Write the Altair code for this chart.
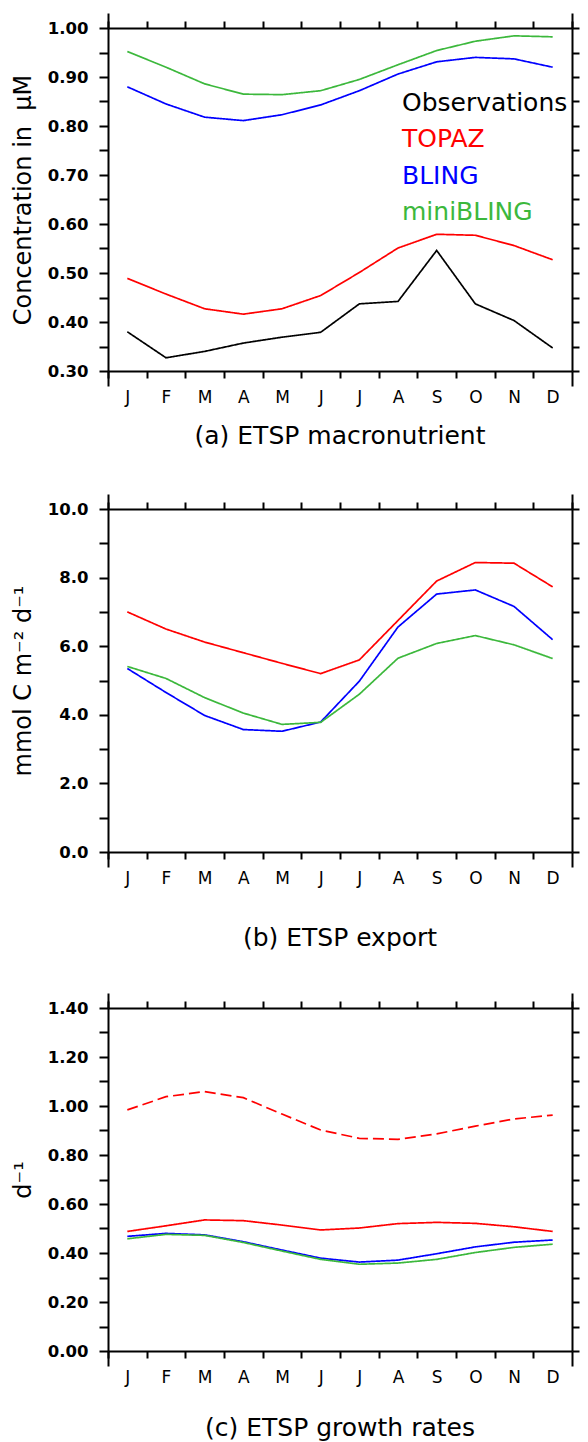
import json
import altair as alt
import pandas as pd

# ---------------- data ----------------
months = ["J", "F", "M", "A", "M", "J", "J", "A", "S", "O", "N", "D"]
month_starts = [0, 1, 2, 3, 4, 5, 6, 7, 8, 9, 10, 11]
month_edges = [0, 1, 2, 3, 4, 5, 6, 7, 8, 9, 10, 11, 12]
series_names = ["Observations", "TOPAZ", "BLING", "miniBLING"]
series_colors = ["#000000", "#ff0000", "#0000ff", "#3cb83c"]

# (a) ETSP macronutrient (uM)
a_obs = [0.380, 0.327, 0.340, 0.357, 0.369, 0.379, 0.437, 0.442, 0.546, 0.437, 0.403, 0.347]
a_topaz = [0.489, 0.457, 0.427, 0.416, 0.427, 0.454, 0.501, 0.551, 0.579, 0.577, 0.556, 0.527]
a_bling = [0.880, 0.845, 0.818, 0.811, 0.823, 0.843, 0.872, 0.906, 0.931, 0.940, 0.937, 0.920]
a_mini = [0.952, 0.920, 0.886, 0.865, 0.864, 0.872, 0.895, 0.925, 0.954, 0.973, 0.984, 0.982]
a_ticks = [0.30, 0.35, 0.40, 0.45, 0.50, 0.55, 0.60, 0.65, 0.70, 0.75, 0.80, 0.85, 0.90, 0.95, 1.00]

# (b) ETSP export (mmol C m-2 d-1)
b_topaz = [7.00, 6.50, 6.12, 5.81, 5.50, 5.20, 5.60, 6.75, 7.90, 8.44, 8.42, 7.73]
b_bling = [5.35, 4.65, 3.98, 3.57, 3.52, 3.79, 4.98, 6.56, 7.52, 7.64, 7.16, 6.19]
b_mini = [5.41, 5.06, 4.50, 4.05, 3.72, 3.78, 4.60, 5.65, 6.08, 6.31, 6.04, 5.64]
b_ticks = [0, 1, 2, 3, 4, 5, 6, 7, 8, 9, 10]

# (c) ETSP growth rates (d-1)
c_topaz_dash = [0.984, 1.038, 1.059, 1.034, 0.967, 0.902, 0.868, 0.864, 0.886, 0.918, 0.947, 0.963]
c_topaz = [0.488, 0.511, 0.535, 0.532, 0.514, 0.494, 0.502, 0.520, 0.525, 0.521, 0.507, 0.488]
c_bling = [0.468, 0.480, 0.474, 0.446, 0.412, 0.379, 0.363, 0.371, 0.397, 0.425, 0.444, 0.453]
c_mini = [0.458, 0.476, 0.472, 0.443, 0.408, 0.374, 0.354, 0.359, 0.374, 0.402, 0.423, 0.436]
c_ticks = [0.0, 0.1, 0.2, 0.3, 0.4, 0.5, 0.6, 0.7, 0.8, 0.9, 1.0, 1.1, 1.2, 1.3, 1.4]

FONT = "DejaVu Sans"
W, H = 464, 343


def long_frame(entries):
    rows = []
    for line_id, series, style, values in entries:
        for i, v in enumerate(values):
            rows.append({"line": line_id, "series": series, "style": style,
                         "pos": i + 0.5, "value": v})
    return pd.DataFrame(rows)


def color_expr():
    parts = []
    for n, c in zip(series_names, series_colors):
        parts.append(f"datum.value == '{n}' ? '{c}' : ")
    return "".join(parts) + "'black'"


month_expr = json.dumps(months) + "[datum.value]"


def panel(df, ydomain, yticks, label_expr, ytitle, title, title_offset, legend):
    xs = alt.Scale(domain=[0, 12], nice=False, zero=False)
    ys = alt.Scale(domain=ydomain, nice=False, zero=False)
    common = dict(domainColor="black", domainWidth=2, tickColor="black",
                  tickWidth=2, grid=False, title=None, minExtent=0)
    bottom = alt.Axis(orient="bottom", values=month_starts, tickSize=7,
                      labelExpr=month_expr, labelOffset=W / 24,
                      labelFlush=False, labelOverlap=False, labelBound=False,
                      labelFont=FONT, labelFontSize=17, labelColor="black",
                      labelPadding=11, **common)
    top = alt.Axis(orient="top", values=month_edges, tickSize=7, labels=False,
                   **common)
    corner_b = alt.Axis(orient="bottom", values=[0, 12], tickSize=15,
                        labels=False, domain=False, tickColor="black",
                        tickWidth=2, grid=False, title=None, minExtent=0)
    corner_t = alt.Axis(orient="top", values=[0, 12], tickSize=15,
                        labels=False, domain=False, tickColor="black",
                        tickWidth=2, grid=False, title=None, minExtent=0)
    left = alt.Axis(orient="left", values=yticks, tickSize=9,
                    labelExpr=label_expr, labelFont=FONT, labelFontSize=16.5,
                    labelFontWeight="bold", labelColor="black", labelPadding=11,
                    labelOverlap=False, labelFlush=False,
                    domainColor="black", domainWidth=2, tickColor="black",
                    tickWidth=2, grid=False,
                    title=ytitle, titleFont=FONT, titleFontSize=24,
                    titleFontWeight="normal", titleColor="black", titlePadding=12)
    right = alt.Axis(orient="right", values=yticks, tickSize=7, labels=False,
                     **common)

    lines = alt.Chart(df).mark_line(strokeWidth=1.7).encode(
        x=alt.X("pos:Q", scale=xs, axis=bottom),
        y=alt.Y("value:Q", scale=ys, axis=left),
        color=alt.Color("series:N",
                        scale=alt.Scale(domain=series_names, range=series_colors),
                        legend=legend),
        strokeDash=alt.StrokeDash("style:N",
                                  scale=alt.Scale(domain=["solid", "dashed"],
                                                  range=[[1, 0], [11, 5]]),
                                  legend=None),
        detail="line:N",
    )
    ghost_tr = alt.Chart(df).mark_line(opacity=0).encode(
        x=alt.X("pos:Q", scale=xs, axis=top),
        y=alt.Y("value:Q", scale=ys, axis=right),
        detail="line:N",
    )
    ghost_cb = alt.Chart(df).mark_line(opacity=0).encode(
        x=alt.X("pos:Q", scale=xs, axis=corner_b),
        y=alt.Y("value:Q", scale=ys, axis=None),
        detail="line:N",
    )
    ghost_ct = alt.Chart(df).mark_line(opacity=0).encode(
        x=alt.X("pos:Q", scale=xs, axis=corner_t),
        y=alt.Y("value:Q", scale=ys, axis=None),
        detail="line:N",
    )
    return alt.layer(lines, ghost_tr, ghost_cb, ghost_ct).resolve_axis(
        x="independent", y="independent"
    ).properties(
        width=W, height=H,
        title=alt.TitleParams(text=title, orient="bottom", anchor="middle",
                              frame="group", font=FONT, fontSize=25,
                              fontWeight="normal", color="black",
                              offset=title_offset),
    )


df_a = long_frame([
    ("obs", "Observations", "solid", a_obs),
    ("topaz", "TOPAZ", "solid", a_topaz),
    ("bling", "BLING", "solid", a_bling),
    ("mini", "miniBLING", "solid", a_mini),
])
df_b = long_frame([
    ("topaz", "TOPAZ", "solid", b_topaz),
    ("bling", "BLING", "solid", b_bling),
    ("mini", "miniBLING", "solid", b_mini),
])
df_c = long_frame([
    ("topaz_dash", "TOPAZ", "dashed", c_topaz_dash),
    ("topaz", "TOPAZ", "solid", c_topaz),
    ("bling", "BLING", "solid", c_bling),
    ("mini", "miniBLING", "solid", c_mini),
])

legend_a = alt.Legend(orient="none", legendX=269, legendY=62, title=None,
                      symbolSize=0, symbolStrokeWidth=0, symbolOpacity=0,
                      labelOffset=0, padding=0, rowPadding=10.5,
                      labelFont=FONT, labelFontSize=25, labelLimit=200,
                      labelColor=alt.ExprRef(expr=color_expr()))

pa = panel(df_a, [0.30, 1.00], a_ticks,
           "round(datum.value*100) % 10 == 0 ? format(datum.value, '.2f') : ''",
           "Concentration in\u00a0 \u03bcM", "(a) ETSP macronutrient", 19, legend_a)
pb = panel(df_b, [0, 10], b_ticks,
           "datum.value % 2 == 0 ? format(datum.value, '.1f') : ''",
           "mmol C m\u207b\u00b2 d\u207b\u00b9", "(b) ETSP export", 40, None)
pc = panel(df_c, [0, 1.40], c_ticks,
           "round(datum.value*100) % 20 == 0 ? format(datum.value, '.2f') : ''",
           "d\u207b\u00b9", "(c) ETSP growth rates", 31, None)

inner = alt.vconcat(pb, pc, spacing=41).resolve_scale(
    color="independent", strokeDash="independent").resolve_legend(
    color="independent", strokeDash="independent")

chart = alt.vconcat(pa, inner, spacing=44).resolve_scale(
    color="independent", strokeDash="independent").resolve_legend(
    color="independent", strokeDash="independent").configure_view(
    stroke=None).properties(
    padding={"left": 3, "top": 4, "right": 0, "bottom": 0},
    background="white")

chart.save("out.html", embed_options={"renderer": "svg", "actions": False})
